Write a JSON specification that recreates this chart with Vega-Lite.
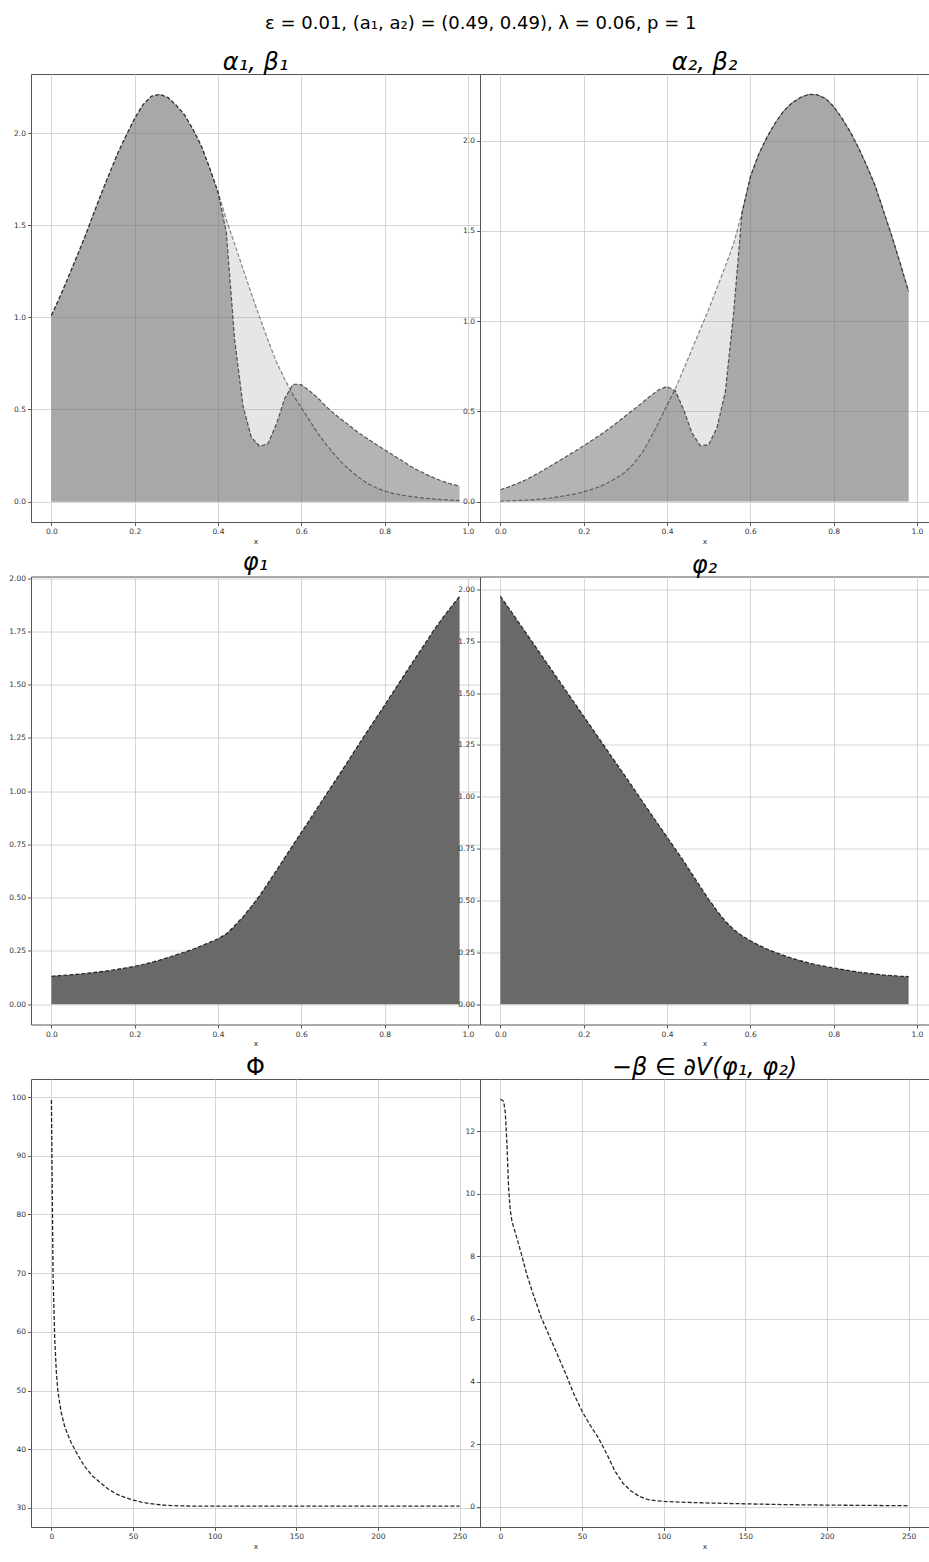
{
  "$schema": "https://vega.github.io/schema/vega-lite/v6.json",
  "background": "white",
  "padding": {"left": 8, "top": 14, "right": 0, "bottom": 0},
  "title": {"text": "ε = 0.01, (a₁, a₂) = (0.49, 0.49), λ = 0.06, p = 1", "fontSize": 18, "fontStyle": "normal", "font": "DejaVu Sans", "fontWeight": "normal", "frame": "group", "anchor": "start", "dx": 234, "offset": 18},
  "datasets": {
    "curves": [
      {"x": 0.00, "a1": 1.01, "b1": 1.01, "a2": 0.066, "b2": 0.003, "p1": 0.131, "p2": 1.967},
      {"x": 0.02, "a1": 1.11, "b1": 1.11, "a2": 0.082, "b2": 0.004, "p1": 0.134, "p2": 1.91},
      {"x": 0.04, "a1": 1.215, "b1": 1.215, "a2": 0.10, "b2": 0.006, "p1": 0.137, "p2": 1.852},
      {"x": 0.06, "a1": 1.325, "b1": 1.325, "a2": 0.12, "b2": 0.008, "p1": 0.14, "p2": 1.794},
      {"x": 0.08, "a1": 1.435, "b1": 1.435, "a2": 0.144, "b2": 0.011, "p1": 0.144, "p2": 1.736},
      {"x": 0.10, "a1": 1.555, "b1": 1.555, "a2": 0.17, "b2": 0.015, "p1": 0.148, "p2": 1.678},
      {"x": 0.12, "a1": 1.673, "b1": 1.673, "a2": 0.197, "b2": 0.02, "p1": 0.153, "p2": 1.62},
      {"x": 0.14, "a1": 1.785, "b1": 1.785, "a2": 0.225, "b2": 0.027, "p1": 0.158, "p2": 1.562},
      {"x": 0.16, "a1": 1.895, "b1": 1.895, "a2": 0.253, "b2": 0.035, "p1": 0.164, "p2": 1.504},
      {"x": 0.18, "a1": 1.99, "b1": 1.99, "a2": 0.281, "b2": 0.043, "p1": 0.171, "p2": 1.446},
      {"x": 0.20, "a1": 2.08, "b1": 2.08, "a2": 0.31, "b2": 0.055, "p1": 0.178, "p2": 1.388},
      {"x": 0.22, "a1": 2.155, "b1": 2.155, "a2": 0.34, "b2": 0.068, "p1": 0.186, "p2": 1.33},
      {"x": 0.24, "a1": 2.20, "b1": 2.20, "a2": 0.371, "b2": 0.085, "p1": 0.196, "p2": 1.272},
      {"x": 0.26, "a1": 2.21, "b1": 2.21, "a2": 0.403, "b2": 0.107, "p1": 0.207, "p2": 1.214},
      {"x": 0.28, "a1": 2.193, "b1": 2.193, "a2": 0.438, "b2": 0.133, "p1": 0.219, "p2": 1.156},
      {"x": 0.30, "a1": 2.15, "b1": 2.15, "a2": 0.475, "b2": 0.165, "p1": 0.232, "p2": 1.098},
      {"x": 0.32, "a1": 2.098, "b1": 2.098, "a2": 0.511, "b2": 0.21, "p1": 0.245, "p2": 1.04},
      {"x": 0.34, "a1": 2.02, "b1": 2.02, "a2": 0.548, "b2": 0.27, "p1": 0.258, "p2": 0.98},
      {"x": 0.36, "a1": 1.93, "b1": 1.93, "a2": 0.585, "b2": 0.35, "p1": 0.274, "p2": 0.922},
      {"x": 0.38, "a1": 1.81, "b1": 1.81, "a2": 0.62, "b2": 0.44, "p1": 0.29, "p2": 0.864},
      {"x": 0.40, "a1": 1.68, "b1": 1.68, "a2": 0.638, "b2": 0.535, "p1": 0.307, "p2": 0.806},
      {"x": 0.42, "a1": 1.46, "b1": 1.531, "a2": 0.615, "b2": 0.625, "p1": 0.33, "p2": 0.748},
      {"x": 0.44, "a1": 0.88, "b1": 1.398, "a2": 0.51, "b2": 0.735, "p1": 0.368, "p2": 0.69},
      {"x": 0.46, "a1": 0.52, "b1": 1.263, "a2": 0.38, "b2": 0.845, "p1": 0.41, "p2": 0.628},
      {"x": 0.48, "a1": 0.35, "b1": 1.13, "a2": 0.31, "b2": 0.955, "p1": 0.458, "p2": 0.566},
      {"x": 0.50, "a1": 0.30, "b1": 1.0, "a2": 0.315, "b2": 1.065, "p1": 0.51, "p2": 0.506},
      {"x": 0.52, "a1": 0.315, "b1": 0.876, "a2": 0.41, "b2": 1.185, "p1": 0.568, "p2": 0.45},
      {"x": 0.54, "a1": 0.42, "b1": 0.76, "a2": 0.61, "b2": 1.305, "p1": 0.627, "p2": 0.40},
      {"x": 0.56, "a1": 0.56, "b1": 0.665, "a2": 1.05, "b2": 1.43, "p1": 0.687, "p2": 0.36},
      {"x": 0.58, "a1": 0.637, "b1": 0.58, "a2": 1.6, "b2": 1.6, "p1": 0.747, "p2": 0.33},
      {"x": 0.60, "a1": 0.635, "b1": 0.51, "a2": 1.80, "b2": 1.80, "p1": 0.807, "p2": 0.306},
      {"x": 0.62, "a1": 0.60, "b1": 0.44, "a2": 1.925, "b2": 1.925, "p1": 0.866, "p2": 0.285},
      {"x": 0.64, "a1": 0.563, "b1": 0.37, "a2": 2.02, "b2": 2.02, "p1": 0.926, "p2": 0.266},
      {"x": 0.66, "a1": 0.515, "b1": 0.31, "a2": 2.10, "b2": 2.10, "p1": 0.985, "p2": 0.25},
      {"x": 0.68, "a1": 0.475, "b1": 0.255, "a2": 2.165, "b2": 2.165, "p1": 1.045, "p2": 0.235},
      {"x": 0.70, "a1": 0.44, "b1": 0.205, "a2": 2.21, "b2": 2.21, "p1": 1.104, "p2": 0.222},
      {"x": 0.72, "a1": 0.405, "b1": 0.165, "a2": 2.24, "b2": 2.24, "p1": 1.165, "p2": 0.21},
      {"x": 0.74, "a1": 0.37, "b1": 0.128, "a2": 2.257, "b2": 2.257, "p1": 1.226, "p2": 0.199},
      {"x": 0.76, "a1": 0.34, "b1": 0.098, "a2": 2.255, "b2": 2.255, "p1": 1.286, "p2": 0.19},
      {"x": 0.78, "a1": 0.31, "b1": 0.075, "a2": 2.236, "b2": 2.236, "p1": 1.345, "p2": 0.182},
      {"x": 0.80, "a1": 0.282, "b1": 0.057, "a2": 2.19, "b2": 2.19, "p1": 1.404, "p2": 0.175},
      {"x": 0.82, "a1": 0.253, "b1": 0.045, "a2": 2.125, "b2": 2.125, "p1": 1.464, "p2": 0.168},
      {"x": 0.84, "a1": 0.225, "b1": 0.036, "a2": 2.05, "b2": 2.05, "p1": 1.524, "p2": 0.161},
      {"x": 0.86, "a1": 0.195, "b1": 0.029, "a2": 1.96, "b2": 1.96, "p1": 1.584, "p2": 0.155},
      {"x": 0.88, "a1": 0.17, "b1": 0.023, "a2": 1.86, "b2": 1.86, "p1": 1.643, "p2": 0.15},
      {"x": 0.90, "a1": 0.148, "b1": 0.018, "a2": 1.75, "b2": 1.75, "p1": 1.702, "p2": 0.145},
      {"x": 0.92, "a1": 0.128, "b1": 0.014, "a2": 1.61, "b2": 1.61, "p1": 1.762, "p2": 0.141},
      {"x": 0.94, "a1": 0.11, "b1": 0.011, "a2": 1.47, "b2": 1.47, "p1": 1.815, "p2": 0.138},
      {"x": 0.96, "a1": 0.096, "b1": 0.008, "a2": 1.32, "b2": 1.32, "p1": 1.866, "p2": 0.135},
      {"x": 0.98, "a1": 0.085, "b1": 0.006, "a2": 1.165, "b2": 1.165, "p1": 1.915, "p2": 0.133}
    ],
    "phi": [
      {"t": 0, "v": 99.5}, {"t": 1, "v": 70.0}, {"t": 2, "v": 59.0}, {"t": 3, "v": 53.3},
      {"t": 4, "v": 49.8}, {"t": 5, "v": 48.0}, {"t": 6, "v": 46.3}, {"t": 8, "v": 44.0},
      {"t": 10, "v": 42.5}, {"t": 12, "v": 41.2}, {"t": 15, "v": 39.6}, {"t": 20, "v": 37.2},
      {"t": 25, "v": 35.5}, {"t": 30, "v": 34.3}, {"t": 35, "v": 33.2}, {"t": 40, "v": 32.35},
      {"t": 45, "v": 31.8}, {"t": 50, "v": 31.35}, {"t": 55, "v": 31.0}, {"t": 60, "v": 30.75},
      {"t": 70, "v": 30.45}, {"t": 80, "v": 30.35}, {"t": 90, "v": 30.3}, {"t": 100, "v": 30.3},
      {"t": 150, "v": 30.3}, {"t": 200, "v": 30.3}, {"t": 250, "v": 30.3}
    ],
    "beta": [
      {"t": 0, "v": 13.02}, {"t": 1, "v": 13.0}, {"t": 2, "v": 12.95}, {"t": 3, "v": 12.6},
      {"t": 4, "v": 11.6}, {"t": 5, "v": 10.2}, {"t": 6, "v": 9.5}, {"t": 7, "v": 9.15},
      {"t": 8, "v": 8.95}, {"t": 10, "v": 8.6}, {"t": 13, "v": 8.05}, {"t": 16, "v": 7.45},
      {"t": 20, "v": 6.8}, {"t": 25, "v": 6.05}, {"t": 30, "v": 5.45}, {"t": 35, "v": 4.85},
      {"t": 40, "v": 4.25}, {"t": 45, "v": 3.6}, {"t": 50, "v": 3.05}, {"t": 55, "v": 2.6},
      {"t": 60, "v": 2.2}, {"t": 65, "v": 1.7}, {"t": 70, "v": 1.15}, {"t": 75, "v": 0.75},
      {"t": 80, "v": 0.5}, {"t": 85, "v": 0.33}, {"t": 90, "v": 0.23}, {"t": 95, "v": 0.19},
      {"t": 100, "v": 0.17}, {"t": 110, "v": 0.145}, {"t": 125, "v": 0.12}, {"t": 150, "v": 0.09},
      {"t": 175, "v": 0.065}, {"t": 200, "v": 0.05}, {"t": 225, "v": 0.04}, {"t": 250, "v": 0.03}
    ]
  },
  "columns": 2,
  "spacing": {"row": 54.5, "column": 0},
  "bounds": "flush",
  "concat": [
    {
      "width": 449, "height": 448,
      "title": {"text": "α₁, β₁", "fontStyle": "italic"},
      "data": {"name": "curves"},
      "encoding": {"x": {"field": "x", "type": "quantitative", "title": "x", "scale": {"domain": [-0.049, 1.029], "nice": false, "zero": false}, "axis": {"values": [0, 0.2, 0.4, 0.6, 0.8, 1.0], "format": ".1f"}}},
      "layer": [
        {"mark": {"type": "area", "color": "#808080", "opacity": 0.2}, "encoding": {"y": {"field": "b1", "type": "quantitative", "title": null, "scale": {"domain": [-0.1105, 2.3205], "nice": false}, "axis": {"values": [0, 0.5, 1, 1.5, 2], "format": ".1f"}}}},
        {"mark": {"type": "area", "color": "#696969", "opacity": 0.5}, "encoding": {"y": {"field": "a1", "type": "quantitative", "title": null}}},
        {"mark": {"type": "line", "color": "#000000", "opacity": 0.45, "strokeWidth": 1.2, "strokeDash": [4, 2]}, "encoding": {"y": {"field": "b1", "type": "quantitative", "title": null}}},
        {"mark": {"type": "line", "color": "#000000", "opacity": 0.6, "strokeWidth": 1.2, "strokeDash": [4, 2]}, "encoding": {"y": {"field": "a1", "type": "quantitative", "title": null}}}
      ]
    },
    {
      "width": 449, "height": 448,
      "title": {"text": "α₂, β₂", "fontStyle": "italic"},
      "data": {"name": "curves"},
      "encoding": {"x": {"field": "x", "type": "quantitative", "title": "x", "scale": {"domain": [-0.049, 1.029], "nice": false, "zero": false}, "axis": {"values": [0, 0.2, 0.4, 0.6, 0.8, 1.0], "format": ".1f"}}},
      "layer": [
        {"mark": {"type": "area", "color": "#808080", "opacity": 0.2}, "encoding": {"y": {"field": "b2", "type": "quantitative", "title": null, "scale": {"domain": [-0.113, 2.37], "nice": false}, "axis": {"values": [0, 0.5, 1, 1.5, 2], "format": ".1f"}}}},
        {"mark": {"type": "area", "color": "#696969", "opacity": 0.5}, "encoding": {"y": {"field": "a2", "type": "quantitative", "title": null}}},
        {"mark": {"type": "line", "color": "#000000", "opacity": 0.45, "strokeWidth": 1.2, "strokeDash": [4, 2]}, "encoding": {"y": {"field": "b2", "type": "quantitative", "title": null}}},
        {"mark": {"type": "line", "color": "#000000", "opacity": 0.6, "strokeWidth": 1.2, "strokeDash": [4, 2]}, "encoding": {"y": {"field": "a2", "type": "quantitative", "title": null}}}
      ]
    },
    {
      "width": 449, "height": 448,
      "title": {"text": "φ₁", "fontStyle": "italic"},
      "data": {"name": "curves"},
      "encoding": {
        "x": {"field": "x", "type": "quantitative", "title": "x", "scale": {"domain": [-0.049, 1.029], "nice": false, "zero": false}, "axis": {"values": [0, 0.2, 0.4, 0.6, 0.8, 1.0], "format": ".1f"}},
        "y": {"field": "p1", "type": "quantitative", "title": null, "scale": {"domain": [-0.0956, 2.008], "nice": false}, "axis": {"values": [0, 0.25, 0.5, 0.75, 1, 1.25, 1.5, 1.75, 2], "format": ".2f"}}
      },
      "layer": [
        {"mark": {"type": "area", "color": "#696969", "opacity": 1}},
        {"mark": {"type": "line", "color": "#000000", "opacity": 0.8, "strokeWidth": 1.2, "strokeDash": [4, 2]}}
      ]
    },
    {
      "width": 449, "height": 448,
      "title": {"text": "φ₂", "fontStyle": "italic"},
      "data": {"name": "curves"},
      "encoding": {
        "x": {"field": "x", "type": "quantitative", "title": "x", "scale": {"domain": [-0.049, 1.029], "nice": false, "zero": false}, "axis": {"values": [0, 0.2, 0.4, 0.6, 0.8, 1.0], "format": ".1f"}},
        "y": {"field": "p2", "type": "quantitative", "title": null, "scale": {"domain": [-0.098, 2.062], "nice": false}, "axis": {"values": [0, 0.25, 0.5, 0.75, 1, 1.25, 1.5, 1.75, 2], "format": ".2f"}}
      },
      "layer": [
        {"mark": {"type": "area", "color": "#696969", "opacity": 1}},
        {"mark": {"type": "line", "color": "#000000", "opacity": 0.8, "strokeWidth": 1.2, "strokeDash": [4, 2]}}
      ]
    },
    {
      "width": 449, "height": 448,
      "title": {"text": "Φ", "fontStyle": "normal"},
      "data": {"name": "phi"},
      "mark": {"type": "line", "color": "#000000", "opacity": 0.85, "strokeWidth": 1.3, "strokeDash": [4, 2]},
      "encoding": {
        "x": {"field": "t", "type": "quantitative", "title": "x", "scale": {"domain": [-12.5, 262.5], "nice": false, "zero": false}, "axis": {"values": [0, 50, 100, 150, 200, 250], "format": "d"}},
        "y": {"field": "v", "type": "quantitative", "title": null, "scale": {"domain": [26.76, 103.07], "nice": false, "zero": false}, "axis": {"values": [30, 40, 50, 60, 70, 80, 90, 100], "format": "d"}}
      }
    },
    {
      "width": 449, "height": 448,
      "title": {"text": "−β ∈ ∂V(φ₁, φ₂)", "fontStyle": "italic"},
      "data": {"name": "beta"},
      "mark": {"type": "line", "color": "#000000", "opacity": 0.85, "strokeWidth": 1.3, "strokeDash": [4, 2]},
      "encoding": {
        "x": {"field": "t", "type": "quantitative", "title": "x", "scale": {"domain": [-12.5, 262.5], "nice": false, "zero": false}, "axis": {"values": [0, 50, 100, 150, 200, 250], "format": "d"}},
        "y": {"field": "v", "type": "quantitative", "title": null, "scale": {"domain": [-0.65, 13.67], "nice": false, "zero": false}, "axis": {"values": [0, 2, 4, 6, 8, 10, 12], "format": "d"}}
      }
    }
  ],
  "config": {
    "font": "DejaVu Sans",
    "view": {"stroke": "#555555", "strokeWidth": 1},
    "axis": {
      "grid": true, "gridColor": "#cccccc", "gridWidth": 0.8, "gridOpacity": 1,
      "domain": false,
      "ticks": true, "tickColor": "#333333", "tickSize": 3.5, "tickWidth": 0.8,
      "labelFont": "DejaVu Sans", "labelFontSize": 7.5, "labelColor": "#333333", "labelPadding": 2,
      "titleFont": "DejaVu Sans", "titleFontSize": 7.5, "titleFontWeight": "normal", "titleColor": "#333333", "titlePadding": 2,
      "zindex": 1
    },
    "title": {"font": "DejaVu Sans", "fontSize": 24, "fontWeight": "normal", "color": "#000000", "offset": -1}
  }
}
